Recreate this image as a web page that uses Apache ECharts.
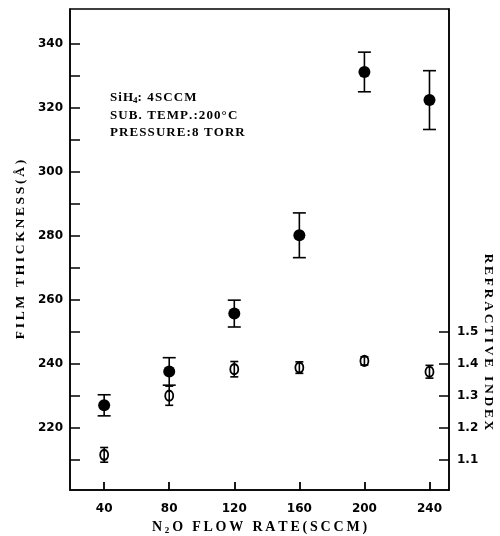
<!DOCTYPE html>
<html>
<head>
<meta charset="utf-8">
<script src="https://cdn.jsdelivr.net/npm/echarts@6/dist/echarts.min.js"></script>
<style>
  html, body { margin: 0; background: #fff; }
  #chart { width: 500px; height: 536px; }
</style>
</head>
<body>
<div id="chart"></div>
<script>
// N2O flow rate (SCCM)
var flow = [40, 80, 120, 160, 200, 240]
// film thickness (A), filled dots, left axis
var thickness = [227, 237.6, 255.7, 280.2, 331.3, 322.5]
var thicknessErr = [3.3, 4.3, 4.2, 7.0, 6.2, 9.2]
// refractive index, open dots, right axis
var refIndex = [1.115, 1.30, 1.383, 1.388, 1.409, 1.375]
var refIndexErr = [0.023, 0.03, 0.024, 0.018, 0.013, 0.02]

var xTicks = [40, 80, 120, 160, 200, 240]
var leftLabels = [220, 240, 260, 280, 300, 320, 340]
var leftTicks = [210, 220, 230, 240, 250, 260, 270, 280, 290, 300, 310, 320, 330, 340]
var rightTicks = [1.1, 1.2, 1.3, 1.4, 1.5]

var serif = 'Liberation Serif'
var sans = 'DejaVu Sans'

// the old typewriter lettering is widely spaced
var HAIR = '\u200A'
var THIN = '\u2009'
function spaced(s, gap) {
  return s.split('').join(gap)
}

var subStyle = { fontFamily: serif, fontWeight: 'bold', fontSize: 9, color: '#000', padding: [7, 0, 0, 0] }

var xName = 'N' + THIN + '{sub|2}' + THIN + spaced('O FLOW RATE(SCCM)', THIN)
var notes = [
  spaced('SiH', HAIR) + '{sub|4}' + spaced(': 4SCCM', HAIR),
  spaced('SUB. TEMP.:200°C', HAIR),
  spaced('PRESSURE:8 TORR', HAIR)
]

function pairs(ys) {
  return flow.map(function (x, i) { return [x, ys[i]] })
}
function ranges(ys, err) {
  return flow.map(function (x, i) { return [x, ys[i] - err[i], ys[i] + err[i]] })
}

function errorBar(capHalf) {
  return function (params, api) {
    var hi = api.coord([api.value(0), api.value(2)])
    var lo = api.coord([api.value(0), api.value(1)])
    var style = { stroke: '#000', lineWidth: 1.6 }
    return {
      type: 'group',
      children: [
        { type: 'line', shape: { x1: hi[0], y1: hi[1], x2: lo[0], y2: lo[1] }, style: style },
        { type: 'line', shape: { x1: hi[0] - capHalf, y1: hi[1], x2: hi[0] + capHalf, y2: hi[1] }, style: style },
        { type: 'line', shape: { x1: lo[0] - capHalf, y1: lo[1], x2: lo[0] + capHalf, y2: lo[1] }, style: style }
      ]
    }
  }
}

var chart = echarts.init(document.getElementById('chart'))

chart.setOption({
  animation: false,
  backgroundColor: '#fff',
  grid: {
    left: 70,
    top: 9,
    width: 379,
    height: 481,
    outerBoundsMode: 'none',
    containLabel: false,
    show: true,
    borderColor: '#000',
    borderWidth: 1.5
  },
  xAxis: {
    type: 'value',
    min: 19,
    max: 252,
    name: xName,
    nameLocation: 'middle',
    nameGap: 28,
    nameTextStyle: {
      fontFamily: serif, fontWeight: 'bold', fontSize: 14, color: '#000',
      rich: { sub: subStyle }
    },
    splitLine: { show: false },
    axisLine: { lineStyle: { color: '#000', width: 1.5 } },
    axisTick: { inside: true, length: 8, customValues: xTicks, lineStyle: { color: '#000', width: 1.8 } },
    axisLabel: { customValues: xTicks, margin: 13, fontFamily: sans, fontWeight: 'bold', fontSize: 12, color: '#000' }
  },
  yAxis: [{
    type: 'value',
    min: 200.5,
    max: 351,
    name: spaced('FILM THICKNESS(Å)', THIN),
    nameLocation: 'middle',
    nameRotate: 90,
    nameGap: 39,
    nameTextStyle: { fontFamily: serif, fontWeight: 'bold', fontSize: 13.5, color: '#000' },
    splitLine: { show: false },
    axisLine: { show: true, lineStyle: { color: '#000', width: 1.5 } },
    axisTick: { inside: true, length: 10, customValues: leftTicks, lineStyle: { color: '#000', width: 1.5 } },
    axisLabel: { customValues: leftLabels, margin: 7, fontFamily: sans, fontWeight: 'bold', fontSize: 12, color: '#000' }
  }, {
    type: 'value',
    position: 'right',
    min: 1.005,
    max: 2.51,
    splitLine: { show: false },
    axisLine: { show: true, lineStyle: { color: '#000', width: 1.5 } },
    axisTick: { inside: true, length: 10, customValues: rightTicks, lineStyle: { color: '#000', width: 1.5 } },
    axisLabel: {
      customValues: rightTicks,
      margin: 8,
      fontFamily: sans, fontWeight: 'bold', fontSize: 12, color: '#000',
      formatter: function (v) { return v.toFixed(1) }
    }
  }],
  graphic: [{
    type: 'text',
    x: 488,
    y: 342,
    rotation: -Math.PI / 2,
    style: {
      text: spaced('REFRACTIVE INDEX', THIN),
      font: 'bold 13.5px "Liberation Serif"',
      fill: '#000',
      align: 'center',
      verticalAlign: 'middle'
    }
  }, {
    type: 'text',
    left: 110,
    top: 89,
    style: {
      text: notes.join('\n'),
      font: 'bold 13px "Liberation Serif"',
      lineHeight: 17.5,
      fill: '#000',
      rich: { sub: { font: 'bold 9px "Liberation Serif"', fill: '#000', padding: [6, 0, 0, 0] } }
    }
  }],
  series: [{
    type: 'scatter',
    name: 'thickness',
    data: pairs(thickness),
    symbol: 'circle',
    symbolSize: 12,
    itemStyle: { color: '#000', opacity: 1 },
    z: 3
  }, {
    type: 'custom',
    name: 'thickness error',
    data: ranges(thickness, thicknessErr),
    renderItem: errorBar(6.5),
    z: 4
  }, {
    type: 'scatter',
    name: 'refractive index',
    yAxisIndex: 1,
    data: pairs(refIndex),
    symbol: 'emptyCircle',
    symbolSize: [8, 10],
    itemStyle: { color: '#000', borderColor: '#000', borderWidth: 1.5, opacity: 1 },
    z: 3
  }, {
    type: 'custom',
    name: 'refractive index error',
    yAxisIndex: 1,
    data: ranges(refIndex, refIndexErr),
    renderItem: errorBar(4),
    z: 4
  }]
})
</script>
</body>
</html>
